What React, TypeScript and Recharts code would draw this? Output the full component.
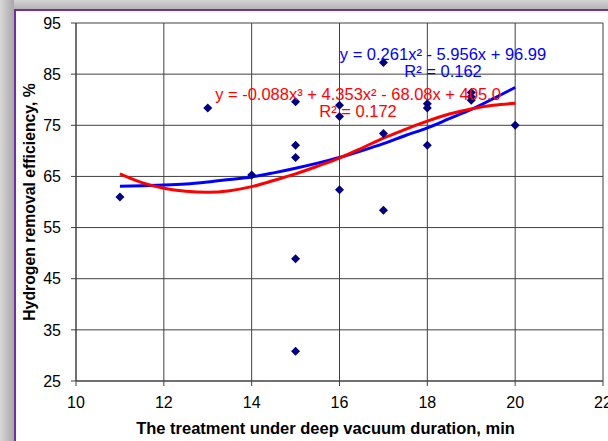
import React from 'react';
import { ComposedChart, XAxis, YAxis, CartesianGrid, Scatter, Line } from 'recharts';

// Measured points (x = duration, min; y = hydrogen removal efficiency, %)
const pointX = [11, 13, 14, 15, 15, 15, 15, 15, 16, 16, 16, 17, 17, 17, 18, 18, 18, 19, 19, 19, 20];
const pointY = [61.0, 78.4, 65.3, 79.6, 71.1, 68.7, 48.9, 30.8, 78.9, 76.7, 62.4, 87.3, 73.4, 58.4, 79.2, 78.4, 71.1, 81.4, 80.6, 79.9, 75.0];

// Trend lines
const curveX = [11, 11.5, 12, 12.5, 13, 13.5, 14, 14.5, 15, 15.5, 16, 16.5, 17, 17.5, 18, 18.5, 19, 19.5, 20];
const quadY = [63.1, 63.2, 63.3, 63.5, 63.9, 64.4, 64.9, 65.7, 66.6, 67.6, 68.7, 70.0, 71.4, 73.0, 74.5, 76.3, 78.1, 80.2, 82.4];
const cubicY = [65.5, 63.8, 62.7, 62.1, 61.9, 62.2, 63.0, 64.2, 65.5, 67.0, 68.6, 70.5, 72.5, 74.2, 75.8, 77.2, 78.2, 78.9, 79.3];

const xTicks = [10, 12, 14, 16, 18, 20, 22];
const yTicks = [25, 35, 45, 55, 65, 75, 85, 95];

const xTitle = 'The treatment under deep vacuum duration, min';
const yTitle = 'Hydrogen removal efficiency, %';
const quadEq = 'y = 0.261x\u00B2 - 5.956x + 96.99';
const quadR2 = 'R\u00B2 = 0.162';
const cubicEq = 'y = -0.088x\u00B3 + 4.353x\u00B2 - 68.08x + 405.0';
const cubicR2 = 'R\u00B2 = 0.172';

const FONT = '"Liberation Sans", Arial, sans-serif';

const Diamond = (props: any) => {
  const { cx, cy } = props;
  if (cx == null || cy == null) return null;
  const r = 4.5;
  return (
    <polygon
      points={`${cx},${cy - r} ${cx + r},${cy} ${cx},${cy + r} ${cx - r},${cy}`}
      fill="#000080"
    />
  );
};

export default function App() {
  const points = pointX.map((x, i) => ({ x, y: pointY[i] }));
  const quad = curveX.map((x, i) => ({ x, y: quadY[i] }));
  const cubic = curveX.map((x, i) => ({ x, y: cubicY[i] }));

  return (
    <div
      style={{
        position: 'absolute',
        left: 0,
        top: 0,
        width: 608,
        height: 441,
        background: '#ffffff',
        overflow: 'hidden',
        fontFamily: FONT,
      }}
    >
      <div style={{ position: 'absolute', left: 0, top: 0, width: 608, height: 9, background: 'linear-gradient(#d4d4d4, #b4b4b4)' }} />
      <div style={{ position: 'absolute', left: 0, top: 0, width: 14, height: 441, background: 'linear-gradient(to right, #d8d8d8, #a8a8a8)' }} />
      <div style={{ position: 'absolute', left: 14, top: 9, width: 594, height: 2, background: '#7030a0' }} />
      <div style={{ position: 'absolute', left: 14, top: 9, width: 2, height: 432, background: '#7030a0' }} />

      <ComposedChart
        width={608}
        height={441}
        margin={{ top: 23, right: 5, bottom: 0, left: 16 }}
        style={{ position: 'absolute', left: 0, top: 0, fontFamily: FONT }}
      >
        <CartesianGrid stroke="#404040" strokeWidth={1} />
        <XAxis
          dataKey="x"
          type="number"
          domain={[10, 22]}
          ticks={xTicks}
          interval={0}
          height={60}
          tickSize={5}
          tickMargin={11}
          axisLine={{ stroke: '#404040' }}
          tickLine={{ stroke: '#404040' }}
          tick={{ fill: '#000', fontSize: 16, fontFamily: FONT }}
          label={{
            value: xTitle,
            position: 'insideBottom',
            offset: 7,
            dx: -14,
            style: { fontWeight: 'bold', fontSize: 16.5, fill: '#000', fontFamily: FONT },
          }}
        />
        <YAxis
          type="number"
          domain={[25, 95]}
          ticks={yTicks}
          interval={0}
          width={60}
          tickSize={5}
          tickMargin={10}
          axisLine={{ stroke: '#404040' }}
          tickLine={{ stroke: '#404040' }}
          tick={{ fill: '#000', fontSize: 16, fontFamily: FONT }}
          label={{
            value: yTitle,
            angle: -90,
            position: 'insideLeft',
            offset: 13,
            style: { textAnchor: 'middle', fontWeight: 'bold', fontSize: 15.8, fill: '#000', fontFamily: FONT },
          }}
        />
        <Line data={quad} dataKey="y" type="monotone" stroke="#0000ff" strokeWidth={3} dot={false} isAnimationActive={false} />
        <Line data={cubic} dataKey="y" type="monotone" stroke="#ff0000" strokeWidth={3} dot={false} isAnimationActive={false} />
        <Scatter data={points} dataKey="y" fill="#000080" shape={Diamond} isAnimationActive={false} />
      </ComposedChart>

      <svg width={608} height={441} style={{ position: 'absolute', left: 0, top: 0, pointerEvents: 'none' }}>
        <text x={443} y={60} textAnchor="middle" fill="#0000ff" fontSize={16.5} fontFamily={FONT}>{quadEq}</text>
        <text x={443} y={77} textAnchor="middle" fill="#0000ff" fontSize={16.5} fontFamily={FONT}>{quadR2}</text>
        <text x={358} y={100} textAnchor="middle" fill="#ff0000" fontSize={16.5} fontFamily={FONT}>{cubicEq}</text>
        <text x={358} y={117} textAnchor="middle" fill="#ff0000" fontSize={16.5} fontFamily={FONT}>{cubicR2}</text>
      </svg>
    </div>
  );
}
